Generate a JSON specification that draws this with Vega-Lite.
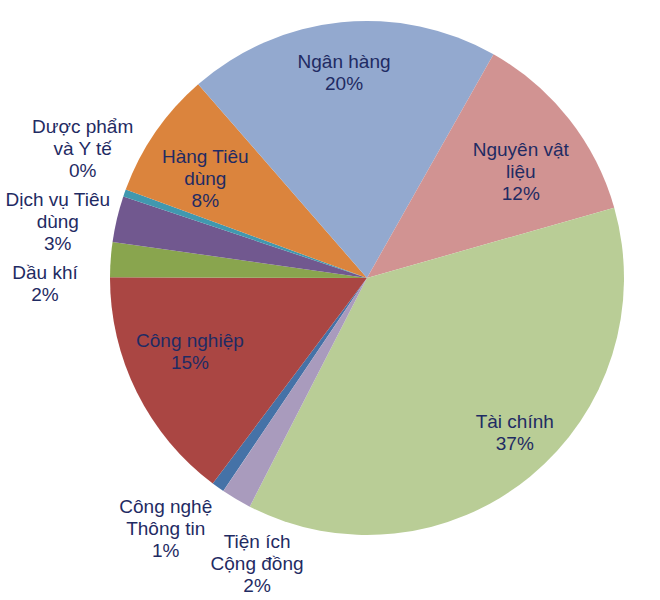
{
  "$schema": "https://vega.github.io/schema/vega-lite/v6.json",
  "width": 586,
  "height": 556,
  "autosize": "none",
  "padding": {"left": 74, "top": 0, "right": 0, "bottom": 44},
  "background": "white",
  "data": {
    "values": [
      {"idx": 1, "name": "Công nghệ\nThông tin", "value": 0.8},
      {"idx": 2, "name": "Công nghiệp", "value": 14.8},
      {"idx": 3, "name": "Dầu khí", "value": 2.2},
      {"idx": 4, "name": "Dịch vụ Tiêu\ndùng", "value": 2.9},
      {"idx": 5, "name": "Dược phẩm\nvà Y tế", "value": 0.45},
      {"idx": 6, "name": "Hàng Tiêu\ndùng", "value": 8.0},
      {"idx": 7, "name": "Ngân hàng", "value": 19.6},
      {"idx": 8, "name": "Nguyên vật\nliệu", "value": 12.4},
      {"idx": 9, "name": "Tài chính", "value": 36.95},
      {"idx": 10, "name": "Tiện ích\nCộng đồng", "value": 1.9}
    ]
  },
  "transform": [
    {"calculate": "datum.name + '\\n' + format(datum.value / 100, '.0%')", "as": "label"}
  ],
  "encoding": {
    "theta": {
      "field": "value",
      "type": "quantitative",
      "stack": true,
      "scale": {"range": [3.735, 10.018]}
    },
    "order": {"field": "idx", "type": "quantitative"}
  },
  "layer": [
    {
      "mark": {"type": "arc", "outerRadius": 257, "stroke": null},
      "encoding": {
        "color": {
          "field": "idx",
          "type": "nominal",
          "legend": null,
          "scale": {
            "domain": [1, 2, 3, 4, 5, 6, 7, 8, 9, 10],
            "range": ["#4572A7", "#AA4643", "#89A54E", "#71588F", "#4198AF", "#DB843D", "#93A9CF", "#D19392", "#B9CD96", "#A99BBD"]
          }
        }
      }
    },
    {
      "mark": {"type": "text", "radius": 305, "thetaOffset": 0.102},
      "encoding": {"text": {"condition": {"test": "datum.idx == 1", "field": "label"}, "value": ""}}
    },
    {
      "mark": {"type": "text", "radius": 188, "thetaOffset": 0.12},
      "encoding": {"text": {"condition": {"test": "datum.idx == 2", "field": "label"}, "value": ""}}
    },
    {
      "mark": {"type": "text", "radius": 322, "thetaOffset": -0.056},
      "encoding": {"text": {"condition": {"test": "datum.idx == 3", "field": "label"}, "value": ""}}
    },
    {
      "mark": {"type": "text", "radius": 319, "thetaOffset": 0.016},
      "encoding": {"text": {"condition": {"test": "datum.idx == 4", "field": "label"}, "value": ""}}
    },
    {
      "mark": {"type": "text", "radius": 322, "thetaOffset": 0.151},
      "encoding": {"text": {"condition": {"test": "datum.idx == 5", "field": "label"}, "value": ""}}
    },
    {
      "mark": {"type": "text", "radius": 202, "thetaOffset": 0.04},
      "encoding": {"text": {"condition": {"test": "datum.idx == 6", "field": "label"}, "value": ""}}
    },
    {
      "mark": {"type": "text", "radius": 217, "thetaOffset": -0.005},
      "encoding": {"text": {"condition": {"test": "datum.idx == 7", "field": "label"}, "value": ""}}
    },
    {
      "mark": {"type": "text", "radius": 200, "thetaOffset": -0.027},
      "encoding": {"text": {"condition": {"test": "datum.idx == 8", "field": "label"}, "value": ""}}
    },
    {
      "mark": {"type": "text", "radius": 206, "thetaOffset": -0.113},
      "encoding": {"text": {"condition": {"test": "datum.idx == 9", "field": "label"}, "value": ""}}
    },
    {
      "mark": {"type": "text", "radius": 286, "thetaOffset": -0.139},
      "encoding": {"text": {"condition": {"test": "datum.idx == 10", "field": "label"}, "value": ""}}
    }
  ],
  "config": {
    "view": {"stroke": null},
    "text": {
      "font": "Liberation Sans",
      "fontSize": 19,
      "lineHeight": 22,
      "lineBreak": "\n",
      "color": "#1F2B63",
      "align": "center",
      "baseline": "middle"
    }
  }
}
